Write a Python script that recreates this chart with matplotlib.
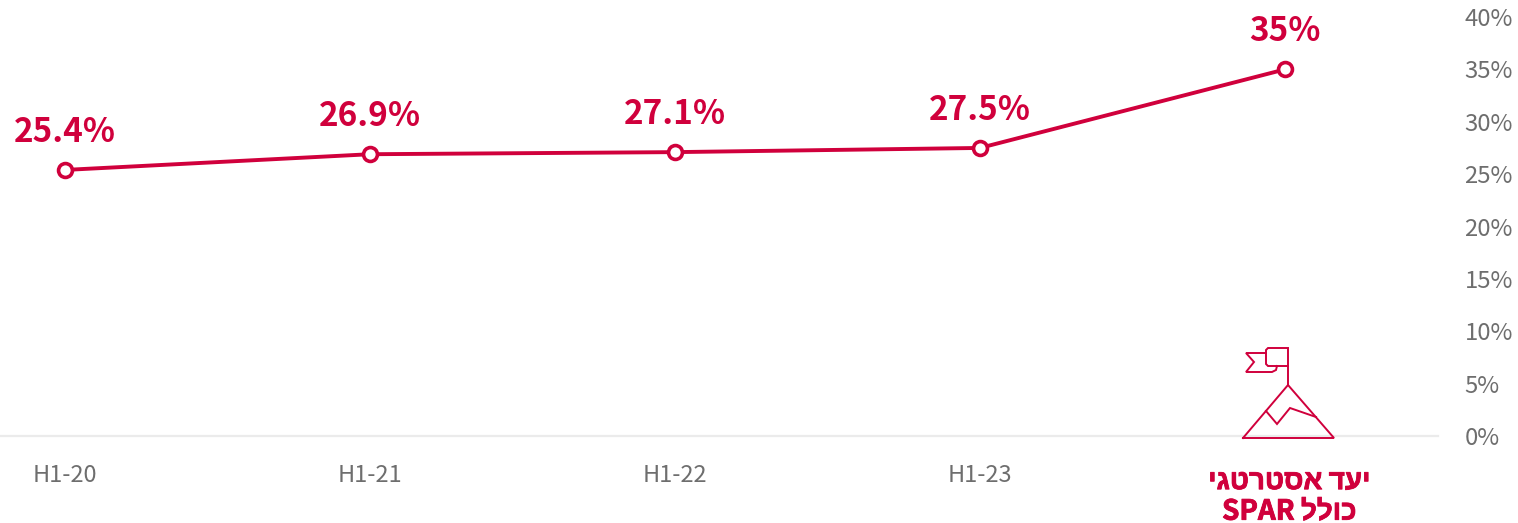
import matplotlib
matplotlib.use('Agg')
import matplotlib.pyplot as plt
import matplotlib.patheffects as pe

plt.rcParams['font.family'] = ['Noto Sans CJK JP', 'DejaVu Sans']

# values
periods = ['H1-20', 'H1-21', 'H1-22', 'H1-23']
values = [25.4, 26.9, 27.1, 27.5, 35]
value_labels = ['25.4%', '26.9%', '27.1%', '27.5%', '35%']
y_ticks = [0, 5, 10, 15, 20, 25, 30, 35, 40]
# matplotlib has no bidi support, so the Hebrew is written out in visual order
target_line1 = 'יעד אסטרטגי'[::-1]
target_line2 = 'SPAR ' + 'כולל'[::-1]

RED = '#d0003c'
GREY = '#6e6e6e'
WIDTH, HEIGHT = 1518, 523
LEFT, RIGHT = 0, 1438
Y_TOP, Y_ZERO = 17, 436
STEP = 305.
X0 = 65.

fig = plt.figure(figsize=(WIDTH / 100., HEIGHT / 100.), dpi=100)
ax = fig.add_axes([LEFT / WIDTH, 1 - Y_ZERO / HEIGHT,
                   (RIGHT - LEFT) / WIDTH, (Y_ZERO - Y_TOP) / HEIGHT])
ax.patch.set_alpha(0)
xpos = list(range(len(values)))
ax.set_xlim((LEFT - X0) / STEP, (RIGHT - X0) / STEP)
ax.set_ylim(0, 40)

ax.plot(xpos, values, color=RED, lw=2.8, marker='o', ms=10, mfc='white',
        mec=RED, mew=2.6, clip_on=False, zorder=3)
for x, y, lab in zip(xpos, values, value_labels):
    ax.annotate(lab, (x, y), xytext=(0, 27), textcoords='offset points',
                ha='center', va='center', color=RED, fontsize=24,
                fontweight='bold')

for side in ['top', 'left', 'right']:
    ax.spines[side].set_visible(False)
ax.spines['bottom'].set_color('#ebebeb')
ax.spines['bottom'].set_linewidth(1.6)

ax.yaxis.tick_right()
ax.set_yticks(y_ticks)
ax.set_yticklabels(['%d%%' % t for t in y_ticks], fontsize=17.2, color=GREY)
ax.set_xticks(xpos[:len(periods)])
ax.set_xticklabels(periods, fontsize=17, color=GREY)
ax.tick_params(axis='y', length=0, pad=19)
ax.tick_params(axis='x', length=0, pad=20)

# target label under the last point
heavier = [pe.withStroke(linewidth=0.6, foreground=RED)]
ax.annotate(target_line1, (xpos[-1], 0), xytext=(3, -32.5),
            textcoords='offset points', ha='center', va='center', color=RED,
            fontsize=20, fontweight='bold', path_effects=heavier,
            family=['Noto Sans CJK JP', 'Liberation Sans'])
ax.annotate(target_line2, (xpos[-1], 0), xytext=(3, -54.5),
            textcoords='offset points', ha='center', va='center', color=RED,
            fontsize=20, fontweight='bold', path_effects=heavier,
            family=['Noto Sans CJK JP', 'Liberation Sans'])

# flag on a mountain icon, drawn in pixel coordinates
icon = fig.add_axes([0, 0, 1, 1])
icon.set_xlim(0, WIDTH)
icon.set_ylim(HEIGHT, 0)
icon.axis('off')
icon.patch.set_alpha(0)
icon_lines = [
    ([1243, 1288, 1334, 1243], [438, 385, 438, 438]),
    ([1266, 1277, 1290, 1316], [411, 424, 408, 417]),
    ([1288, 1288, 1268, 1266, 1266, 1268, 1288],
     [385, 348, 348, 350, 364, 366, 366]),
    ([1266, 1246, 1254, 1246, 1272, 1276, 1277],
     [353, 353, 362, 372, 372, 370, 366]),
]
for xs, ys in icon_lines:
    icon.plot(xs, ys, color=RED, lw=1.4, solid_joinstyle='miter')

fig.savefig('out.png', dpi=100)
